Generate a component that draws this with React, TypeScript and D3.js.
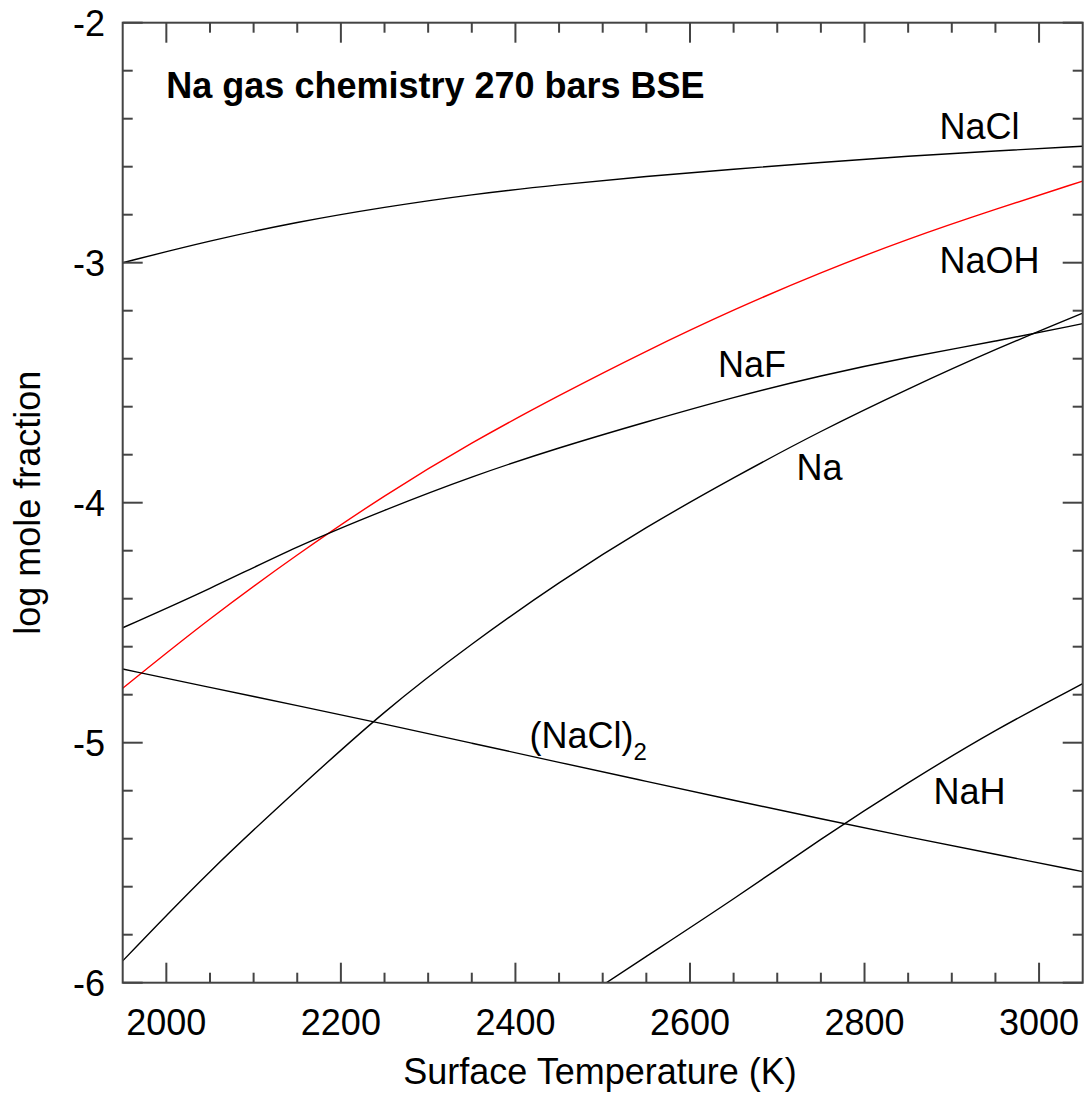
import React, { useEffect, useRef } from 'react';
import * as d3 from 'd3';

// temperature grid (K)
const temps = [1950, 2050, 2150, 2250, 2350, 2450, 2550, 2650, 2750, 2850, 2950, 3050];

// log mole fraction for each species
const naCl = [-3.0, -2.908, -2.83, -2.768, -2.715, -2.675, -2.64, -2.61, -2.582, -2.556, -2.534, -2.515];
const naOH = [-4.773, -4.48, -4.215, -3.968, -3.748, -3.552, -3.367, -3.195, -3.04, -2.9, -2.777, -2.66];
const naF = [-4.521, -4.36, -4.18, -4.03, -3.89, -3.77, -3.663, -3.56, -3.47, -3.393, -3.328, -3.254];
const na = [-5.909, -5.53, -5.195, -4.865, -4.586, -4.33, -4.1, -3.895, -3.7, -3.525, -3.36, -3.21];
const naCl2 = [-4.693, -4.77, -4.845, -4.922, -5.002, -5.082, -5.161, -5.24, -5.317, -5.393, -5.465, -5.537];
const naH = [null, null, null, null, null, -6.13, -5.89, -5.653, -5.4, -5.165, -4.945, -4.754];

const seriesList = [
  { name: 'NaCl', values: naCl, color: '#000000' },
  { name: 'NaOH', values: naOH, color: '#ff0000' },
  { name: 'NaF', values: naF, color: '#000000' },
  { name: 'Na', values: na, color: '#000000' },
  { name: '(NaCl)2', values: naCl2, color: '#000000' },
  { name: 'NaH', values: naH, color: '#000000' },
];

// curve labels, placed in data units [T, logX]
const labels = [
  { text: 'NaCl', t: 2886, v: -2.485 },
  { text: 'NaOH', t: 2886, v: -3.042 },
  { text: 'NaF', t: 2632, v: -3.476 },
  { text: 'Na', t: 2722, v: -3.907 },
  { text: 'NaH', t: 2879, v: -5.255 },
];

const xMajor = [2000, 2200, 2400, 2600, 2800, 3000];
const yMajor = [-2, -3, -4, -5, -6];

const W = 1085;
const H = 1111;
const FONT = "'Liberation Sans', Arial, Helvetica, sans-serif";

const App: React.FC = () => {
  const ref = useRef<SVGSVGElement>(null);

  useEffect(() => {
    if (!ref.current) return;
    const svg = d3.select(ref.current);
    svg.selectAll('*').remove();

    const left = 122.7;
    const right = 1082.7;
    const top = 22.7;
    const bottom = 982.7;

    const x = d3.scaleLinear().domain([1950, 3050]).range([left, right]);
    const y = d3.scaleLinear().domain([-6, -2]).range([bottom, top]);

    svg
      .append('defs')
      .append('clipPath')
      .attr('id', 'plot-clip')
      .append('rect')
      .attr('x', left)
      .attr('y', top)
      .attr('width', right - left)
      .attr('height', bottom - top);

    // curves
    const line = d3
      .line<number | null>()
      .defined((d) => d !== null)
      .x((d, i) => x(temps[i]))
      .y((d) => y(d as number))
      .curve(d3.curveBasis);

    const curves = svg.append('g').attr('clip-path', 'url(#plot-clip)');
    seriesList.forEach((s) => {
      curves
        .append('path')
        .attr('d', line(s.values))
        .attr('fill', 'none')
        .attr('stroke', s.color)
        .attr('stroke-width', 1.4);
    });

    // ticks (inward on all four sides)
    const axisColor = '#444';
    const ticks = svg.append('g').attr('stroke', axisColor).attr('stroke-width', 2);
    const xMinor = d3.range(2000, 3050, 50).filter((t) => t % 200 !== 0);
    const yMinor = d3.range(-5.8, -2.0, 0.2).map((v) => +v.toFixed(1)).filter((v) => !Number.isInteger(v));

    xMajor.forEach((t) => {
      ticks.append('line').attr('x1', x(t)).attr('x2', x(t)).attr('y1', bottom).attr('y2', bottom - 20);
      ticks.append('line').attr('x1', x(t)).attr('x2', x(t)).attr('y1', top).attr('y2', top + 20);
    });
    xMinor.forEach((t) => {
      ticks.append('line').attr('x1', x(t)).attr('x2', x(t)).attr('y1', bottom).attr('y2', bottom - 10);
      ticks.append('line').attr('x1', x(t)).attr('x2', x(t)).attr('y1', top).attr('y2', top + 10);
    });
    yMajor.forEach((v) => {
      ticks.append('line').attr('x1', left).attr('x2', left + 20).attr('y1', y(v)).attr('y2', y(v));
      ticks.append('line').attr('x1', right).attr('x2', right - 20).attr('y1', y(v)).attr('y2', y(v));
    });
    yMinor.forEach((v) => {
      ticks.append('line').attr('x1', left).attr('x2', left + 10).attr('y1', y(v)).attr('y2', y(v));
      ticks.append('line').attr('x1', right).attr('x2', right - 10).attr('y1', y(v)).attr('y2', y(v));
    });

    // frame
    svg
      .append('rect')
      .attr('x', left)
      .attr('y', top)
      .attr('width', right - left)
      .attr('height', bottom - top)
      .attr('fill', 'none')
      .attr('stroke', axisColor)
      .attr('stroke-width', 2);

    const text = svg.append('g').attr('font-family', FONT).attr('font-size', 36).attr('fill', '#000');

    // tick labels
    xMajor.forEach((t) => {
      text
        .append('text')
        .attr('x', x(t))
        .attr('y', 1035)
        .attr('text-anchor', 'middle')
        .text(t);
    });
    yMajor.forEach((v) => {
      text
        .append('text')
        .attr('x', 105)
        .attr('y', y(v) + 13)
        .attr('text-anchor', 'end')
        .text(v);
    });

    // axis titles
    text
      .append('text')
      .attr('x', 600)
      .attr('y', 1084)
      .attr('text-anchor', 'middle')
      .text('Surface Temperature (K)');
    text
      .append('text')
      .attr('transform', `translate(40,${(top + bottom) / 2}) rotate(-90)`)
      .attr('text-anchor', 'middle')
      .text('log mole fraction');

    // title
    text
      .append('text')
      .attr('x', x(2000))
      .attr('y', y(-2.314))
      .attr('font-weight', 'bold')
      .text('Na gas chemistry 270 bars BSE');

    // curve labels
    labels.forEach((l) => {
      text.append('text').attr('x', x(l.t)).attr('y', y(l.v)).text(l.text);
    });
    const dimer = text.append('text').attr('x', x(2416)).attr('y', y(-5.023));
    dimer.append('tspan').text('(NaCl)');
    dimer.append('tspan').attr('font-size', 24).attr('dy', 12).text('2');

    return () => {
      svg.selectAll('*').remove();
    };
  }, []);

  return (
    <svg
      ref={ref}
      width={W}
      height={H}
      style={{ position: 'absolute', left: 0, top: 0, background: '#fff' }}
    />
  );
};

export default App;
